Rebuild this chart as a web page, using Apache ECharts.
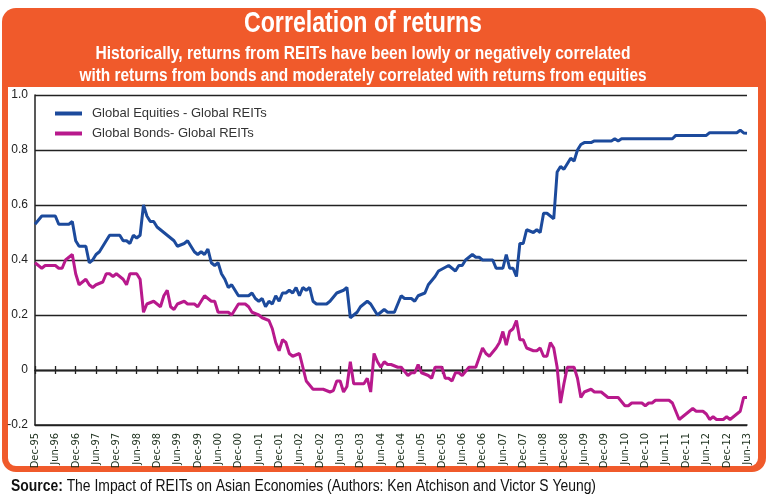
<!DOCTYPE html>
<html>
<head>
<meta charset="utf-8">
<script src="https://cdn.jsdelivr.net/npm/echarts@6/dist/echarts.min.js"></script>
<style>
html,body{margin:0;padding:0;background:#fff;}
#chart{width:770px;height:498px;}
</style>
</head>
<body>
<div id="chart"></div>
<script>
// ---- data (x = months since Dec-95) ----
var xTickLabels = ['Dec-95','Jun-96','Dec-96','Jun-97','Dec-97','Jun-98','Dec-98','Jun-99','Dec-99','Jun-00','Dec-00','Jun-01','Dec-01','Jun-02','Dec-02','Jun-03','Dec-03','Jun-04','Dec-04','Jun-05','Dec-05','Jun-06','Dec-06','Jun-07','Dec-07','Jun-08','Dec-08','Jun-09','Dec-09','Jun-10','Dec-10','Jun-11','Dec-11','Jun-12','Dec-12','Jun-13'];
var yTickLabels = ['-0.2','0','0.2','0.4','0.6','0.8','1.0'];

var equitiesMonths = [0,2,6,7,10,11,12,13,15,16,17,18,19,20,22,25,26,27,28,29,30,31,32,33,34,35,36,38,40,41,42,44,45,46,47,48,49,50,51,52,53,54,55,56,57,58,59,60,63,64,65,66,67,68,69,70,71,72,73,74,75,76,77,78,79,80,81,82,83,86,87,89,91,92,93,95,96,98,99,101,103,104,106,108,109,111,112,113,115,116,118,119,122,124,125,126,127,129,130,131,132,135,136,138,139,140,141,142,143,144,145,147,148,149,150,151,153,154,155,156,157,158,159,160,161,162,164,165,170,171,172,173,188,189,198,199,207,208,209,210];
var equitiesValues = [0.53,0.56,0.56,0.53,0.53,0.54,0.47,0.45,0.45,0.39,0.40,0.42,0.43,0.45,0.49,0.49,0.47,0.47,0.46,0.49,0.48,0.49,0.60,0.56,0.54,0.54,0.52,0.50,0.48,0.47,0.45,0.46,0.47,0.45,0.43,0.42,0.43,0.42,0.44,0.39,0.38,0.39,0.35,0.33,0.30,0.31,0.29,0.27,0.27,0.28,0.26,0.25,0.26,0.23,0.25,0.24,0.27,0.25,0.28,0.28,0.29,0.28,0.30,0.27,0.30,0.29,0.30,0.25,0.24,0.24,0.25,0.28,0.29,0.30,0.19,0.21,0.23,0.25,0.24,0.20,0.22,0.21,0.21,0.27,0.26,0.26,0.25,0.27,0.28,0.31,0.34,0.36,0.38,0.36,0.38,0.38,0.40,0.42,0.41,0.41,0.40,0.40,0.37,0.37,0.42,0.37,0.37,0.34,0.46,0.46,0.51,0.50,0.51,0.50,0.57,0.57,0.55,0.72,0.74,0.73,0.75,0.77,0.76,0.80,0.82,0.827,0.827,0.833,0.833,0.841,0.833,0.841,0.841,0.853,0.853,0.863,0.863,0.872,0.862,0.861];

var bondsMonths = [0,1,2,3,6,7,8,9,11,12,13,14,15,16,17,18,20,21,22,23,24,26,27,28,30,31,32,33,35,36,37,38,39,40,41,42,44,45,47,48,49,50,52,53,54,56,57,58,60,62,63,64,66,67,69,70,71,72,73,74,75,76,78,79,80,82,85,87,88,89,90,91,92,93,94,97,98,99,100,101,102,103,104,105,107,108,110,111,112,113,114,116,117,118,120,121,122,123,124,125,126,128,130,132,133,134,136,137,138,139,140,141,142,143,144,145,147,148,149,150,151,152,153,154,155,156,157,159,160,161,162,164,165,166,167,169,170,172,174,175,176,178,179,180,181,182,183,185,187,188,190,192,194,195,197,198,199,200,201,203,204,205,207,208,209,210];
var bondsValues = [0.39,0.38,0.37,0.38,0.38,0.37,0.37,0.40,0.42,0.35,0.31,0.32,0.33,0.31,0.30,0.31,0.32,0.35,0.35,0.34,0.35,0.33,0.31,0.35,0.35,0.33,0.21,0.24,0.25,0.24,0.23,0.27,0.29,0.23,0.22,0.24,0.25,0.24,0.24,0.23,0.25,0.27,0.25,0.25,0.21,0.21,0.21,0.20,0.24,0.24,0.23,0.21,0.20,0.19,0.18,0.15,0.10,0.07,0.11,0.10,0.06,0.05,0.06,0.01,-0.04,-0.07,-0.07,-0.08,-0.075,-0.04,-0.04,-0.08,-0.06,0.03,-0.05,-0.05,-0.03,-0.08,0.06,0.03,0.01,0.03,0.02,0.02,0.01,0.01,-0.02,-0.01,-0.01,0.02,-0.01,-0.02,-0.03,0.01,0.01,-0.03,-0.03,-0.04,-0.01,-0.01,-0.02,0.01,0.01,0.08,0.06,0.05,0.08,0.10,0.14,0.09,0.14,0.15,0.18,0.11,0.11,0.08,0.07,0.07,0.08,0.05,0.05,0.10,0.08,0.01,-0.12,-0.05,0.01,0.01,-0.03,-0.10,-0.08,-0.07,-0.08,-0.08,-0.08,-0.10,-0.10,-0.10,-0.13,-0.13,-0.12,-0.12,-0.12,-0.13,-0.12,-0.12,-0.11,-0.11,-0.11,-0.12,-0.18,-0.16,-0.14,-0.15,-0.15,-0.16,-0.18,-0.17,-0.18,-0.18,-0.17,-0.18,-0.16,-0.15,-0.10,-0.10];

var seriesNames = ['Global Equities - Global REITs','Global Bonds- Global REITs'];
var titleText = 'Correlation of returns';
var subtitleLines = ['Historically, returns from REITs have been lowly or negatively correlated','with returns from bonds and moderately correlated with returns from equities'];
var sourceBold = 'Source:';
var sourceText = ' The Impact of REITs on Asian Economies (Authors: Ken Atchison and Victor S Yeung)';

function zip(a, b) { return a.map(function (v, i) { return [v, b[i]]; }); }

var SANS = "'Liberation Sans',Arial,sans-serif";
var NARROW = "'DejaVu Sans Condensed','Liberation Sans',sans-serif";
var ORANGE = '#f05a2b';
var AX = '#222';

// condensed look: measure text and squeeze horizontally to a target width
var mctx = document.createElement('canvas').getContext('2d');
function measure(font, txt) { mctx.font = font; return mctx.measureText(txt).width; }
function squeezed(txt, size, target, cx, cy, weight, align) {
  var font = (weight || 'bold') + ' ' + size + 'px ' + SANS;
  var w = measure(font, txt);
  return {type: 'text', z: 10, silent: true, x: cx, y: cy, scaleX: target / w, scaleY: 1,
    style: {text: txt, font: font, fill: '#fff', textAlign: align || 'center', textVerticalAlign: 'middle'}};
}
var srcFontB = 'bold 16px ' + SANS, srcFont = '16px ' + SANS;
var srcW = measure(srcFontB, sourceBold) + measure(srcFont, sourceText);
var srcScale = 585 / srcW;

var chart = echarts.init(document.getElementById('chart'), null, {renderer: 'canvas'});
var xBase = {type: 'value', min: 0, max: 210, interval: 6, splitLine: {show: false}};
chart.setOption({
  backgroundColor: '#fff',
  animation: false,
  graphic: [
    {type: 'rect', z: -10, silent: true, shape: {x: 2, y: 8, width: 764, height: 464, r: 14}, style: {fill: ORANGE}},
    {type: 'rect', z: -9, silent: true, shape: {x: 8, y: 87, width: 750, height: 379, r: [0, 0, 8, 8]}, style: {fill: '#fff'}},
    squeezed(titleText, 30, 238, 363, 24),
    squeezed(subtitleLines[0], 19, 535, 363, 54),
    squeezed(subtitleLines[1], 19, 567, 363, 76),
    {type: 'text', z: 10, silent: true, x: 11, y: 487, scaleX: srcScale, scaleY: 1, style: {
      text: '{b|' + sourceBold + '}{n|' + sourceText + '}',
      textVerticalAlign: 'middle',
      rich: {b: {fontWeight: 'bold', fontSize: 16, fontFamily: SANS, fill: '#111'},
             n: {fontSize: 16, fontFamily: SANS, fill: '#111'}}
    }}
  ],
  legend: {
    data: seriesNames, orient: 'vertical', left: 55, top: 107, itemGap: 7, padding: 0,
    icon: 'rect', itemWidth: 27, itemHeight: 4,
    textStyle: {fontSize: 13, color: '#333', fontFamily: SANS, padding: [0, 0, 0, 5]}
  },
  grid: {left: 35, right: 23, top: 95, bottom: 73, containLabel: false},
  xAxis: [
    Object.assign({}, xBase, {
      position: 'bottom',
      axisLine: {onZero: false, lineStyle: {color: AX, width: 1.5}},
      axisTick: {show: false},
      axisLabel: {rotate: 90, margin: 8, fontSize: 11, color: '#1d301d', fontFamily: NARROW,
        formatter: function (v) { return xTickLabels[Math.round(v / 6)]; }}
    }),
    Object.assign({}, xBase, {
      axisLine: {onZero: true, onZeroAxisIndex: 0, lineStyle: {color: AX, width: 1.3}},
      axisTick: {show: true, inside: true, length: 4, lineStyle: {color: AX, width: 1.3}},
      axisLabel: {show: false}
    }),
    Object.assign({}, xBase, {
      axisLine: {onZero: true, onZeroAxisIndex: 0, lineStyle: {color: AX, width: 1.3}},
      axisTick: {show: true, inside: false, length: 4, lineStyle: {color: AX, width: 1.3}},
      axisLabel: {show: false}
    })
  ],
  yAxis: {
    type: 'value', min: -0.2, max: 1.0, interval: 0.2,
    axisLine: {show: true, lineStyle: {color: AX, width: 1.5}},
    axisTick: {show: false},
    axisLabel: {fontSize: 12, color: '#222', fontFamily: SANS, margin: 7,
      formatter: function (v) { return yTickLabels[Math.round((v + 0.2) / 0.2)]; }},
    splitLine: {show: true, lineStyle: {color: AX, width: 1.3}}
  },
  series: [
    {name: seriesNames[0], type: 'line', xAxisIndex: 0, showSymbol: false, z: 4,
      lineStyle: {width: 3, color: '#1c4a9c'}, itemStyle: {color: '#1c4a9c'},
      data: zip(equitiesMonths, equitiesValues)},
    {name: seriesNames[1], type: 'line', xAxisIndex: 0, showSymbol: false, z: 3,
      lineStyle: {width: 3, color: '#b8198c'}, itemStyle: {color: '#b8198c'},
      data: zip(bondsMonths, bondsValues)}
  ]
});
</script>
</body>
</html>
